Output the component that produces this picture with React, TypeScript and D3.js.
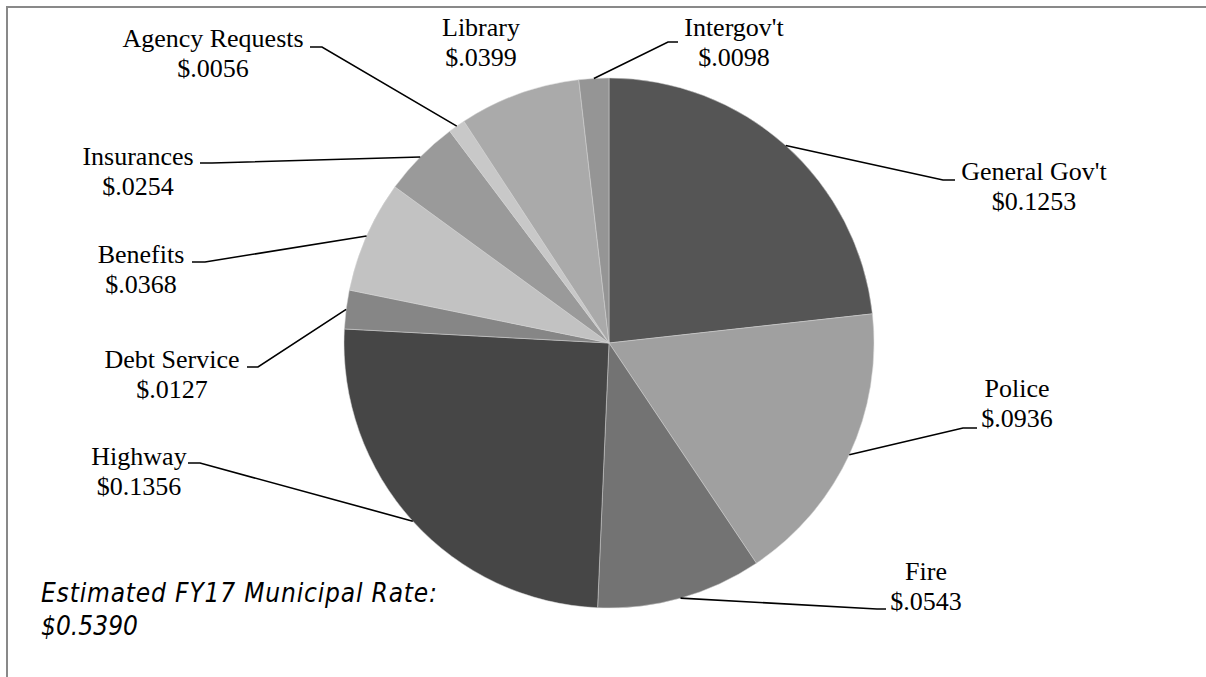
import * as React from "react";
import * as d3 from "d3";

// FY17 municipal rate, per category
const categories: string[] = [
  "General Gov't",
  "Police",
  "Fire",
  "Highway",
  "Debt Service",
  "Benefits",
  "Insurances",
  "Agency Requests",
  "Library",
  "Intergov't"
];
const values: number[] = [0.1253, 0.0936, 0.0543, 0.1356, 0.0127, 0.0368, 0.0254, 0.0056, 0.0399, 0.0098];
const sliceColors: string[] = [
  "#555555", "#a0a0a0", "#737373", "#464646", "#868686",
  "#c2c2c2", "#9a9a9a", "#c8c8c8", "#aaaaaa", "#959595"
];

// label layout: text centre x, first baseline, leader elbow, leader end (null = no leader)
const labelLayout: { cx: number; y: number; elbow: number[] | null; end: number[] | null }[] = [
  { cx: 1034, y: 180, elbow: [943, 180], end: [955, 180] },
  { cx: 1017, y: 397, elbow: [963, 428], end: [977, 428] },
  { cx: 926, y: 580, elbow: [877, 609], end: [886, 609] },
  { cx: 139, y: 465, elbow: [200, 463], end: [188, 463] },
  { cx: 172, y: 368, elbow: [258, 367], end: [247, 367] },
  { cx: 141, y: 263, elbow: [205, 262], end: [192, 262] },
  { cx: 138, y: 165, elbow: [212, 163], end: [200, 163] },
  { cx: 213, y: 47, elbow: [322, 47], end: [310, 47] },
  { cx: 481, y: 36, elbow: null, end: null },
  { cx: 734, y: 36, elbow: [668, 42], end: [678, 42] }
];

const width = 1206;
const height = 677;
const cx = 609;
const cy = 343;
const radius = 265;

const fmt = (v: number) => (v >= 0.1 ? "$" + v.toFixed(4) : "$" + v.toFixed(4).slice(1));

export default function App() {
  const arcs = d3.pie<number>().sort(null).value(d => d)(values);
  const arc = d3.arc<d3.PieArcDatum<number>>().innerRadius(0).outerRadius(radius);
  const edge = d3.arc<d3.PieArcDatum<number>>().innerRadius(radius).outerRadius(radius);
  const total = d3.sum(values);

  return (
    <div style={{ position: "absolute", left: 0, top: 0 }}>
      <svg width={width} height={height} style={{ display: "block" }}>
        <rect x={0} y={0} width={width} height={height} fill="#ffffff" />
        <rect x={7} y={7} width={1400} height={900} fill="none" stroke="#898989" strokeWidth={2} />
        <g transform={`translate(${cx},${cy})`}>
          {arcs.map((a, i) => (
            <path key={i} d={arc(a) || ""} fill={sliceColors[i]} stroke="#d4d4d4" strokeWidth={0.5} />
          ))}
        </g>
        {arcs.map((a, i) => {
          const lay = labelLayout[i];
          if (!lay.elbow || !lay.end) return null;
          const [ex, ey] = edge.centroid(a);
          const pts = [[cx + ex, cy + ey], lay.elbow, lay.end];
          return (
            <path
              key={"l" + i}
              d={d3.line()(pts as [number, number][]) || ""}
              fill="none"
              stroke="#000"
              strokeWidth={1.6}
            />
          );
        })}
        {categories.map((c, i) => {
          const lay = labelLayout[i];
          return (
            <text
              key={"t" + i}
              x={lay.cx}
              y={lay.y}
              textAnchor="middle"
              fontFamily="'Liberation Serif', 'Times New Roman', serif"
              fontSize={26}
              fill="#000"
            >
              <tspan x={lay.cx}>{c}</tspan>
              <tspan x={lay.cx} dy={30}>{fmt(values[i])}</tspan>
            </text>
          );
        })}
        <g
          fontFamily="'Liberation Sans Narrow', 'DejaVu Sans Condensed', 'Liberation Sans', sans-serif"
          fontStyle="italic"
          fontSize={26}
          fill="#000"
        >
          <text x={41} y={602} textLength={396} lengthAdjust="spacing">
            Estimated FY17 Municipal Rate:
          </text>
          <text x={41} y={635} textLength={97} lengthAdjust="spacing">
            {"$" + total.toFixed(4)}
          </text>
        </g>
      </svg>
    </div>
  );
}
